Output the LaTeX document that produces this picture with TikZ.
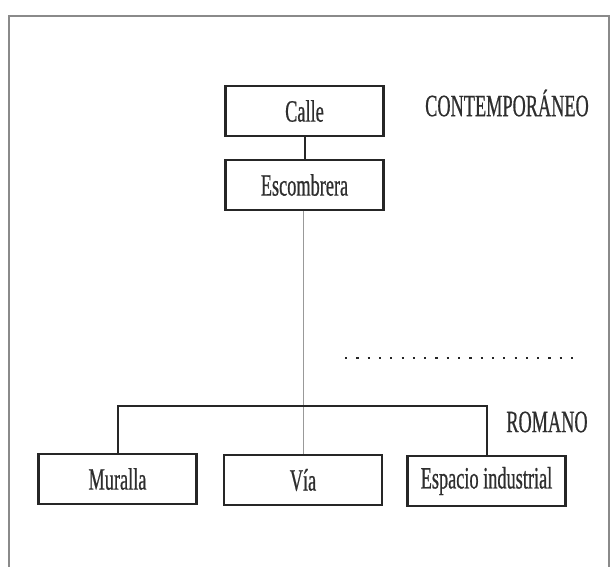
\documentclass[tikz,border=0pt]{standalone}
\usepackage{fontspec}
\setmainfont{Liberation Serif}[FakeStretch=0.59,FakeBold=0.6]
\definecolor{ink}{HTML}{262626}
\definecolor{txt}{HTML}{2E2E2E}
\definecolor{frame}{HTML}{8A8A8A}
\begin{document}
\begin{tikzpicture}[x=1pt,y=-1pt,
  box/.style={draw=ink,line width=2.2pt,minimum width=158pt,minimum height=50pt,inner sep=0pt,
    text=txt,font=\fontsize{31}{31}\selectfont},
  lbl/.style={inner sep=0pt,text=txt,font=\fontsize{31}{31}\selectfont},
  link/.style={draw=ink,line width=2pt},
  thinlink/.style={draw=gray!80,line width=1pt},
  dotline/.style={draw=ink,line width=2.2pt,dash pattern=on 2.2pt off 9.1pt}]
\useasboundingbox (0,0) rectangle (611,566);
% frame
\coordinate (f1) at (9,570);
\coordinate (f2) at (9,16);
\coordinate (f3) at (609,16);
\coordinate (f4) at (609,570);
\draw[frame,line width=1.5pt] (f1) -- (f2) -- (f3) -- (f4);
% nodes
\node[box] (calle) at (304.5,111) {Calle};
\node[box] (escomb) at (304.5,185) {Escombrera};
\node[box] (muralla) at (117.5,479) {Muralla};
\node[box] (via) at (303,480) {Vía};
\node[box] (espacio) at (486.5,481) {Espacio industrial};
\node[lbl] (contemp) at (507,103) {CONTEMPORÁNEO};
\node[lbl] (romano) at (547,422) {ROMANO};
% connectors
\draw[link] (calle.south) -- (escomb.north);
\draw[thinlink] (escomb.south -| via.north) -- (via.north);
\coordinate (bl) at (117.5,406);
\coordinate (br) at (486.5,406);
\draw[link] (muralla.north) -- (bl) -- (br) -- (espacio.north);
% dotted separator
\coordinate (d1) at (345,358);
\coordinate (d2) at (582,358);
\draw[dotline] (d1) -- (d2);
\end{tikzpicture}
\end{document}
